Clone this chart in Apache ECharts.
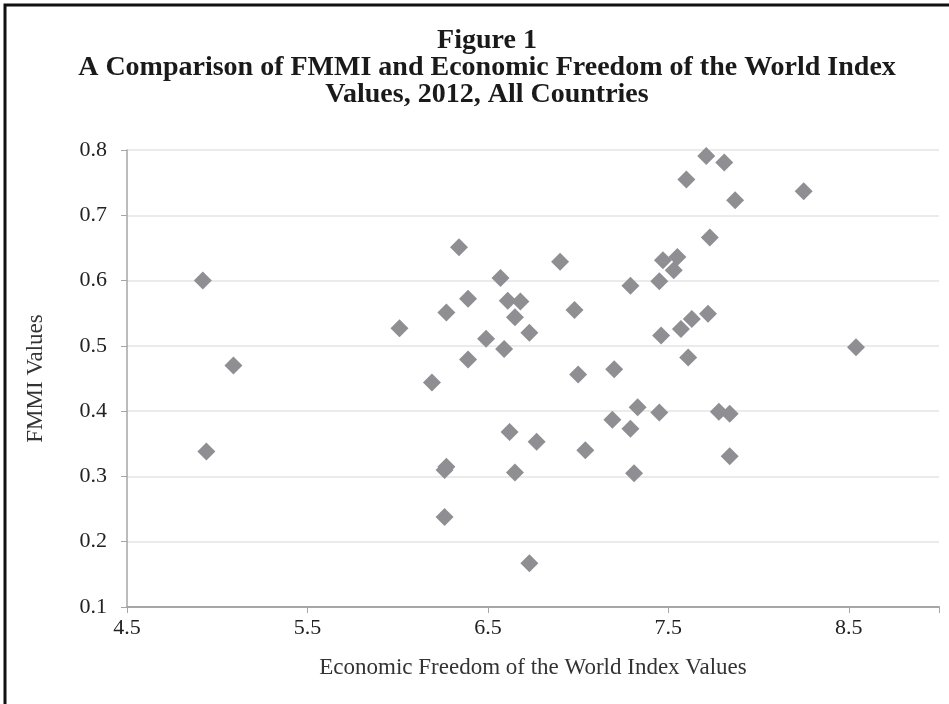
<!DOCTYPE html>
<html>
<head>
<meta charset="utf-8">
<script src="https://cdn.jsdelivr.net/npm/echarts@6/dist/echarts.min.js"></script>
<style>
html,body{margin:0;padding:0;background:#fff;}
#chart{width:949px;height:704px;}
</style>
</head>
<body>
<div id="chart"></div>
<script>
// Economic Freedom of the World index values (x)
var efwValues = [
  4.92, 5.09, 4.94,
  6.34, 6.57, 6.39, 6.61, 6.68, 6.27, 6.65, 6.01, 6.73, 6.49, 6.59, 6.39, 6.19,
  6.62, 6.77, 6.26, 6.27, 6.65, 6.26, 6.73,
  7.71, 7.81, 7.60, 7.87, 7.73, 6.90, 7.47, 7.55, 7.53, 7.29, 7.45, 6.98, 7.72, 7.63, 7.57, 7.46, 7.61, 7.00, 7.20,
  7.33, 7.45, 7.78, 7.84, 7.19, 7.29, 7.04, 7.84, 7.31,
  8.25, 8.54
];
// FMMI values (y)
var fmmiValues = [
  0.600, 0.470, 0.338,
  0.651, 0.604, 0.572, 0.569, 0.568, 0.551, 0.544, 0.527, 0.520, 0.511, 0.495, 0.479, 0.444,
  0.368, 0.353, 0.310, 0.315, 0.306, 0.238, 0.167,
  0.791, 0.781, 0.755, 0.723, 0.666, 0.629, 0.631, 0.636, 0.616, 0.592, 0.599, 0.555, 0.549, 0.541, 0.526, 0.516, 0.482, 0.456, 0.464,
  0.406, 0.398, 0.399, 0.396, 0.387, 0.373, 0.340, 0.331, 0.305,
  0.737, 0.498
];
var xTicks = [4.5, 5.5, 6.5, 7.5, 8.5];
var yTicks = [0.1, 0.2, 0.3, 0.4, 0.5, 0.6, 0.7, 0.8];
var titleLines = ['Figure 1', 'A Comparison of FMMI and Economic Freedom of the World Index', 'Values, 2012, All Countries'];

var points = efwValues.map(function (x, i) { return [x, fmmiValues[i]]; });
var serif = "'Liberation Serif', 'DejaVu Serif', serif";

var chart = echarts.init(document.getElementById('chart'), null, {renderer: 'canvas'});
chart.setOption({
  animation: false,
  backgroundColor: '#ffffff',
  title: {
    text: titleLines.join('\n'),
    left: 482,
    textAlign: 'center',
    top: 22,
    textStyle: {fontFamily: serif, fontWeight: 'bold', fontSize: 28, lineHeight: 27, color: '#1a1a1a'}
  },
  graphic: [{
    type: 'rect', silent: true, z: 100,
    shape: {x: 5, y: 5, width: 980, height: 740},
    style: {fill: 'none', stroke: '#111', lineWidth: 3}
  }],
  grid: {left: 127, right: 10, top: 150, bottom: 97, containLabel: false},
  xAxis: {
    type: 'value', min: 4.5, max: 9, interval: 1,
    name: 'Economic Freedom of the World Index Values',
    nameLocation: 'middle', nameGap: 49,
    nameTextStyle: {fontFamily: serif, fontSize: 23, color: '#333'},
    axisLine: {show: true, lineStyle: {color: '#a6a6a6', width: 2}},
    axisTick: {show: true, length: 6, lineStyle: {color: '#a6a6a6', width: 1}},
    axisLabel: {
      fontFamily: serif, fontSize: 22, color: '#222', margin: 10,
      formatter: function (v) { return xTicks.indexOf(Math.round(v * 10) / 10) >= 0 ? v.toFixed(1) : ''; }
    },
    splitLine: {show: false}
  },
  yAxis: {
    type: 'value', min: 0.1, max: 0.8, interval: 0.1,
    name: 'FMMI Values',
    nameLocation: 'middle', nameGap: 80,
    nameTextStyle: {fontFamily: serif, fontSize: 23, color: '#333'},
    axisLine: {show: true, lineStyle: {color: '#a6a6a6', width: 1.5}},
    axisTick: {show: true, length: 6, lineStyle: {color: '#a6a6a6', width: 1}},
    axisLabel: {
      fontFamily: serif, fontSize: 22, color: '#222', margin: 20,
      formatter: function (v) { return v.toFixed(1); }
    },
    splitLine: {show: true, lineStyle: {color: '#e4e4e4', width: 1.5}}
  },
  series: [{
    type: 'scatter',
    symbol: 'diamond',
    symbolSize: 18,
    itemStyle: {color: '#8f8f93', opacity: 1},
    data: points
  }]
});
</script>
</body>
</html>
